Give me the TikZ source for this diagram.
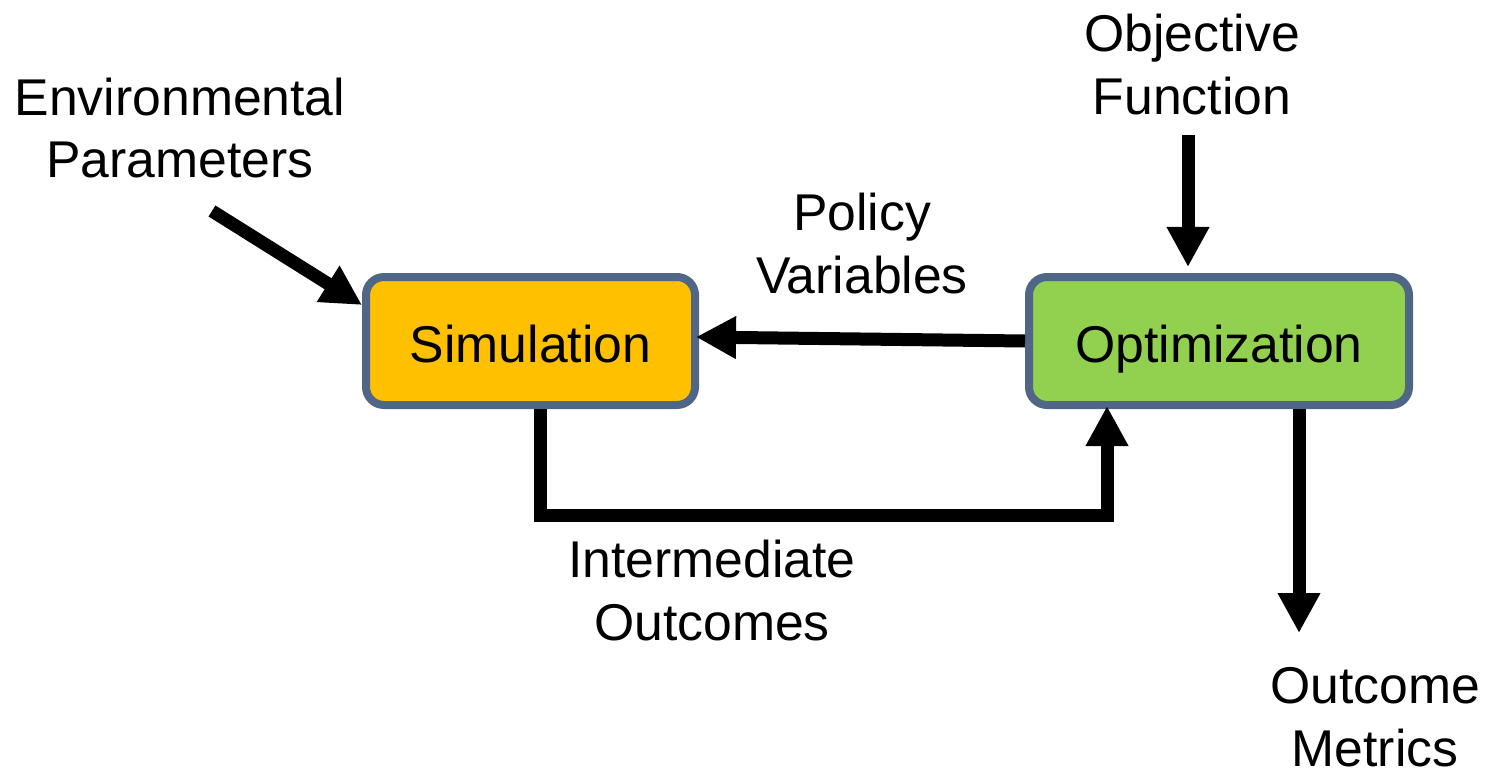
\documentclass[tikz,border=0pt]{standalone}
\usepackage{fontspec}
\setmainfont{Liberation Sans}
\usetikzlibrary{arrows.meta,calc}

\definecolor{boxedge}{RGB}{80,102,134}
\definecolor{simfill}{RGB}{255,192,0}
\definecolor{optfill}{RGB}{146,208,80}

\tikzset{
  block/.style={draw=boxedge, line width=4pt, rounded corners=9pt,
    minimum height=64pt, inner sep=0pt,
    text height=23.3pt, text depth=2.3pt},
  % anchored at the baseline of the last line
  label/.style={align=center, anchor=base, inner sep=0pt},
  flow/.style={line width=6.5pt, line join=miter,
    -{Triangle[width=20pt,length=20pt]}}
}

\begin{document}
\begin{tikzpicture}[x=0.5pt, y=-0.5pt,
  font=\fontsize{25.85pt}{31.5pt}\selectfont]
\useasboundingbox (0,0) rectangle (1492,775);

% the two process blocks
\node[block, fill=simfill, minimum width=164.5pt] (sim) at (530.5,341) {Simulation};
\node[block, fill=optfill, minimum width=190pt] (opt) at (1219,341) {Optimization};

% labels
\node[label] (env) at (180,178) {Environmental\\Parameters};
\node[label] (obj) at (1192,115) {Objective\\Function};
\node[label] (pol) at (862,293) {Policy\\Variables};
\node[label] (inter) at (712,640) {Intermediate\\Outcomes};
\node[label] (met) at (1375,766) {Outcome\\Metrics};

% free ends of the input arrows
\coordinate (envstart) at (212,211);
\coordinate (objstart) at (1188,135);

% environmental parameters into the simulation
\draw[flow] (envstart) -- ($(sim.north west)+(0,32)$);
% objective function into the optimization
\draw[flow] (objstart) -- ($(opt.north)+(-31,-6)$);
% policy variables back to the simulation
\draw[flow] (opt.west) -- ($(sim.east)+(-3,-4)$);
% intermediate outcomes from the simulation to the optimization
\coordinate (simout) at ($(sim.south)+(9.5,0)$);
\coordinate (optin) at ($(opt.south)+(-112,-3)$);
\draw[flow] (simout) -- ++(0,106) -| (optin);
% outcome metrics out of the optimization
\draw[flow] ($(opt.south)+(80,0)$) -- ($(opt.south)+(80,224)$);
\end{tikzpicture}
\end{document}
